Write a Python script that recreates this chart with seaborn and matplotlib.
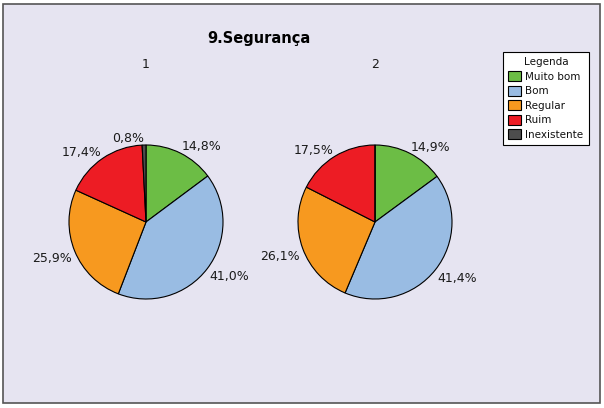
import numpy as np
import matplotlib
matplotlib.use("Agg")
import matplotlib.pyplot as plt
import seaborn as sns
from matplotlib.patches import Rectangle

# 基础设置
sns.set_style("white")
plt.rcParams['font.family'] = ['DejaVu Sans']

# -------------------------- 数据 --------------------------
categorias = ['Muito bom', 'Bom', 'Regular', 'Ruim', 'Inexistente']
valores_1 = [14.8, 41.0, 25.9, 17.4, 0.8]
valores_2 = [14.9, 41.4, 26.1, 17.5, 0.0]
rotulos_grafico = ['1', '2']
titulo = '9.Segurança'

cores = sns.color_palette(['#6CBD45', '#99BCE3', '#F7991F', '#ED1C24', '#4D4D4D'])
fundo = '#E6E4F1'

W, H = 604, 408
fig = plt.figure(figsize=(W / 100, H / 100), dpi=100)
fig.patch.set_facecolor('white')
fig.patches.append(Rectangle((3 / W, 5 / H), 597 / W, 399 / H, transform=fig.transFigure,
                             facecolor=fundo, edgecolor='#555555', linewidth=1.2, zorder=-10))

def fmt(v):
    return f'{v:.1f}%'.replace('.', ',') if v > 0 else ''

raio = 77
centros = [(146, 222), (375, 222)]
wedges_legenda = None
for (cx, cy), vals, rot in zip(centros, [valores_1, valores_2], rotulos_grafico):
    ax = fig.add_axes([(cx - raio) / W, (H - cy - raio) / H, 2 * raio / W, 2 * raio / H])
    ax.set_facecolor('none')
    wedges, textos = ax.pie(vals, colors=cores, startangle=90, counterclock=False,
                            labels=[fmt(v) for v in vals], labeldistance=1.04,
                            wedgeprops=dict(edgecolor='black', linewidth=0.8),
                            textprops=dict(fontsize=9, color='#1a1a1a'))
    # rótulos estilo Excel: canto do texto encostado no círculo
    for t in textos:
        t.set_va('baseline' if t.get_position()[1] > 0 else 'top')
    ax.set_xlim(-1, 1)
    ax.set_ylim(-1, 1)
    ax.axis('off')
    fig.text(cx / W, 1 - 65 / H, rot, ha='center', va='center', fontsize=9, color='#1a1a1a')
    if wedges_legenda is None:
        wedges_legenda = wedges

fig.text(259 / W, 1 - 38 / H, titulo, ha='center', va='center', fontsize=10.5,
         fontweight='bold', color='black')

leg = fig.legend(wedges_legenda, categorias, title='Legenda', loc='upper left',
                 bbox_to_anchor=(503 / W, 1 - 52 / H), borderaxespad=0,
                 fontsize=7.5, title_fontsize=7.5,
                 frameon=True, fancybox=False, edgecolor='black', facecolor='white',
                 framealpha=1, handlelength=1.2, handleheight=1.1, handletextpad=0.45,
                 labelspacing=0.38, borderpad=0.5, alignment='center')
leg.get_frame().set_linewidth(0.8)
for t in leg.get_texts():
    t.set_color('#111111')
leg.get_title().set_color('#111111')

fig.savefig('out.png', dpi=100)
